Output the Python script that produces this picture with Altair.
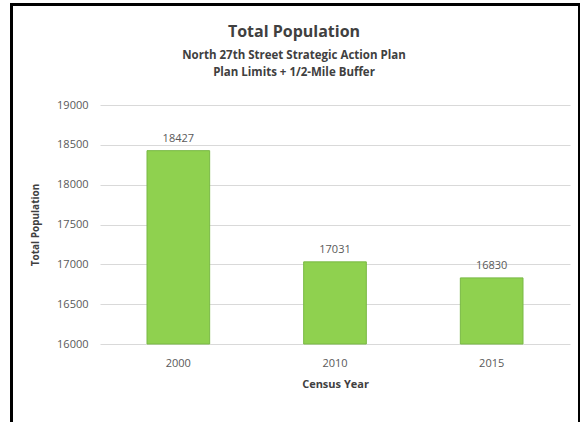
import altair as alt
import pandas as pd

years = ["2000", "2010", "2015"]
population = [18427, 17031, 16830]
axis_min = 16000

df = pd.DataFrame({"year": years, "population": population, "base": [axis_min] * 3})

FONT = "Open Sans"
GRAY = "#595959"

base = alt.Chart(df).encode(
    x=alt.X("year:N", sort=years, title="Census Year",
            scale=alt.Scale(paddingInner=0.6, paddingOuter=0.3),
            axis=alt.Axis(labelAngle=0, labelPadding=13, titlePadding=10,
                          domain=False, ticks=False, labelColor=GRAY,
                          labelFontSize=11, labelFont=FONT,
                          titleFont=FONT, titleFontSize=11, titleFontWeight="bold",
                          titleColor="#404040")),
    y=alt.Y("population:Q", title="Total Population",
            scale=alt.Scale(domain=[16000, 19000], zero=False, nice=False),
            axis=alt.Axis(values=[16000, 16500, 17000, 17500, 18000, 18500, 19000],
                          format="d", domain=False, ticks=False, labelPadding=12,
                          labelColor=GRAY, labelFontSize=11, labelFont=FONT,
                          gridColor="#D9D9D9", gridWidth=1,
                          titleFont=FONT, titleFontSize=10, titleFontWeight="bold",
                          titleColor="#404040", titlePadding=16)),
)

bars = base.mark_bar(color="#8FD14F", stroke="#79B944", strokeWidth=1).encode(
    y2=alt.Y2("base:Q"))
labels = base.mark_text(dy=-12, font=FONT, fontSize=11, color=GRAY).encode(
    text=alt.Text("population:Q", format="d"))

border_left = alt.Chart(df).mark_rule(color="black", strokeWidth=3).encode(
    x=alt.value(-88.5), y=alt.value(-101), y2=alt.value(317))
border_top = alt.Chart(df).mark_rule(color="black", strokeWidth=3).encode(
    x=alt.value(-90), x2=alt.value(480), y=alt.value(-100.5))
border_right = alt.Chart(df).mark_rule(color="black", strokeWidth=2).encode(
    x=alt.value(479), y=alt.value(-101), y2=alt.value(317))

chart = alt.layer(bars, labels, border_left, border_top, border_right).properties(
    width=470, height=239,
    autosize=alt.AutoSizeParams(type="none"),
    padding={"left": 100, "top": 105, "right": 11, "bottom": 78},
    title=alt.TitleParams(
        text="Total Population",
        subtitle=["North 27th Street Strategic Action Plan", "Plan Limits + 1/2-Mile Buffer"],
        anchor="middle", dx=-41, dy=76, offset=0,
        font=FONT, fontSize=16, fontWeight="bold", color="#404040",
        subtitleFont=FONT, subtitleFontSize=11.5, subtitleFontWeight="bold",
        subtitleColor="#404040", subtitlePadding=10, subtitleLineHeight=17,
    ),
).configure(background="white").configure_view(strokeWidth=0, stroke="transparent")

chart.save("out.html", embed_options={"renderer": "svg", "actions": False})
